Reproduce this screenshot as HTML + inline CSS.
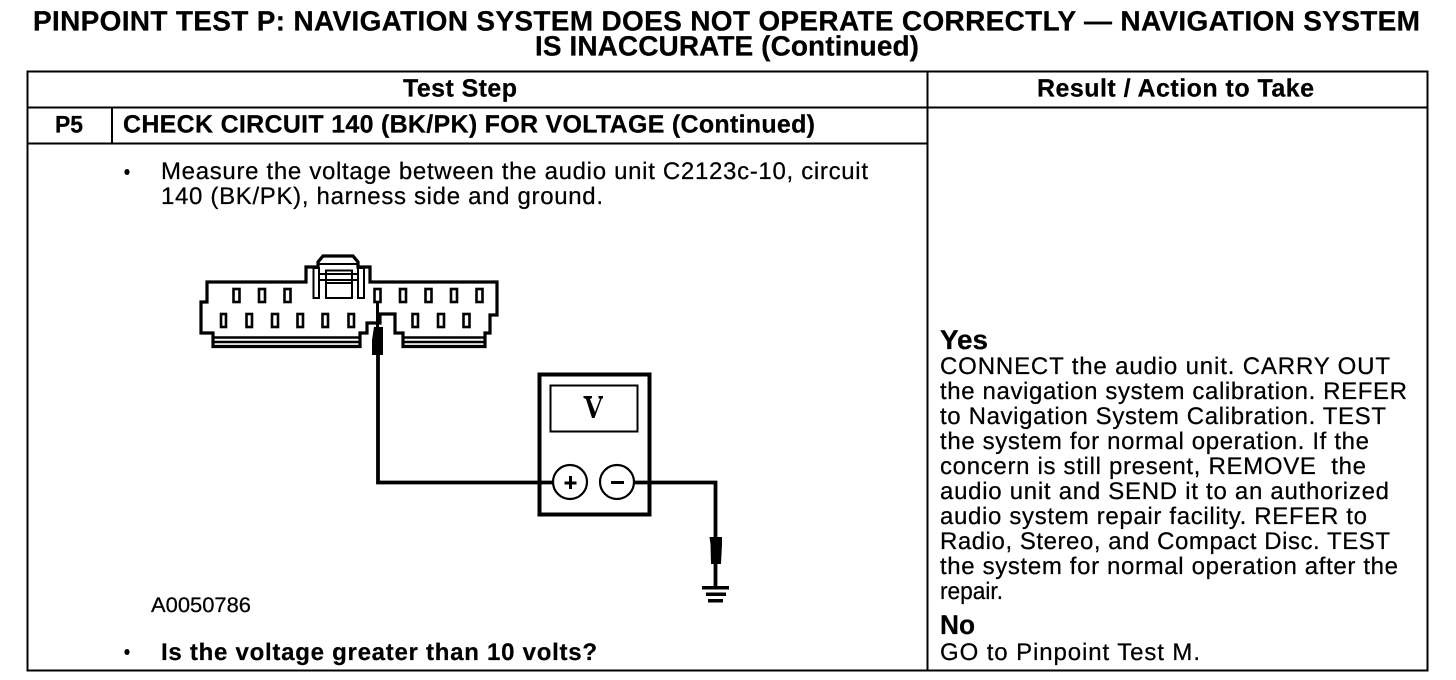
<!DOCTYPE html>
<html><head><meta charset="utf-8"><style>
html,body{margin:0;padding:0;background:#fff;width:1456px;height:680px;overflow:hidden}
svg{display:block}
text{font-family:"Liberation Sans",Arial,sans-serif;fill:#000;white-space:pre;stroke:#000;stroke-width:.25px}
.t{font-size:28px;font-weight:bold}
.h{font-size:25px;font-weight:bold}
.n{font-size:24px}
</style></head><body>
<svg width="1456" height="680" viewBox="0 0 1456 680" xmlns="http://www.w3.org/2000/svg">
<g text-rendering="geometricPrecision">
<text class="t" x="33" y="30.500" textLength="1387" lengthAdjust="spacing">PINPOINT TEST P: NAVIGATION SYSTEM DOES NOT OPERATE CORRECTLY — NAVIGATION SYSTEM</text>
<text class="t" x="535" y="55.500" textLength="384" lengthAdjust="spacing">IS INACCURATE (Continued)</text>
<text class="h" x="403" y="96.500" textLength="114" lengthAdjust="spacing">Test Step</text>
<text class="h" x="1037" y="96.500" textLength="277" lengthAdjust="spacing">Result / Action to Take</text>
<text class="h" x="55" y="132.500" textLength="28" lengthAdjust="spacingAndGlyphs" style="font-size:24px">P5</text>
<text class="h" x="123" y="132.500" textLength="692" lengthAdjust="spacing">CHECK CIRCUIT 140 (BK/PK) FOR VOLTAGE (Continued)</text>
<text class="n" x="161" y="179" textLength="707" lengthAdjust="spacing">Measure the voltage between the audio unit C2123c-10, circuit</text>
<text class="n" x="161" y="204" textLength="442" lengthAdjust="spacing">140 (BK/PK), harness side and ground.</text>
<text x="151" y="612" font-size="21" textLength="100" lengthAdjust="spacingAndGlyphs">A0050786</text>
<text class="h" x="161" y="660" textLength="436" lengthAdjust="spacing" style="font-size:24px">Is the voltage greater than 10 volts?</text>
<text class="h" x="940" y="349" textLength="48" lengthAdjust="spacingAndGlyphs" style="font-size:27px">Yes</text>
<text class="n" x="940" y="374" textLength="450" lengthAdjust="spacing">CONNECT the audio unit. CARRY OUT</text>
<text class="n" x="940" y="399" textLength="467" lengthAdjust="spacing">the navigation system calibration. REFER</text>
<text class="n" x="940" y="424" textLength="446" lengthAdjust="spacing">to Navigation System Calibration. TEST</text>
<text class="n" x="940" y="449" textLength="429" lengthAdjust="spacing">the system for normal operation. If the</text>
<text class="n" x="940" y="474" textLength="426" lengthAdjust="spacing">concern is still present, REMOVE  the</text>
<text class="n" x="940" y="499" textLength="449" lengthAdjust="spacing">audio unit and SEND it to an authorized</text>
<text class="n" x="940" y="524" textLength="427" lengthAdjust="spacing">audio system repair facility. REFER to</text>
<text class="n" x="940" y="549" textLength="450" lengthAdjust="spacing">Radio, Stereo, and Compact Disc. TEST</text>
<text class="n" x="940" y="574" textLength="458" lengthAdjust="spacing">the system for normal operation after the</text>
<text class="n" x="940" y="599" textLength="63" lengthAdjust="spacingAndGlyphs">repair.</text>
<text class="h" x="940" y="634" textLength="35" lengthAdjust="spacingAndGlyphs" style="font-size:27px">No</text>
<text class="n" x="940" y="660" textLength="260" lengthAdjust="spacing">GO to Pinpoint Test M.</text>
</g>
<ellipse cx="127" cy="172" rx="2.600" ry="3" fill="#000"/>
<ellipse cx="127" cy="652" rx="2.600" ry="3" fill="#000"/>

<!-- table -->
<g fill="none" stroke="#000" stroke-width="2.200" shape-rendering="crispEdges">
<rect x="27.500" y="71.500" width="1400" height="599"/>
<path d="M27 107.500H1428M27 143.500H928M927.500 71V671M112 107V144"/>
</g>

<!-- connector -->
<g fill="none" stroke="#000" stroke-linejoin="miter">
<path stroke-width="3.200" d="M207 282V302H201V333H213V346.500H360V333H367V323H380V314H395V333H403V346.500H485V333H490V315H497V282H370V267H358V262L353 256H323L318 262V267H306V282Z"/>
<path stroke-width="2.400" d="M213 337.500H360M213 342H360M403 337.500H485M403 342H485"/>
<g stroke-width="2">
<rect x="313.500" y="268" width="5.500" height="30"/>
<rect x="358" y="268" width="6" height="30"/>
<rect x="326" y="270.500" width="26" height="27.500"/>
<path d="M319 264H358M319 274H358M319 280H358M326 283H352"/>
</g>
<g stroke-width="2.600">
<rect x="233.500" y="289" width="6" height="13"/><rect x="259" y="289" width="6" height="13"/><rect x="284.500" y="289" width="6" height="13"/>
<rect x="374.500" y="289" width="6" height="13"/><rect x="400" y="289" width="6" height="13"/><rect x="425.500" y="289" width="6" height="13"/><rect x="451" y="289" width="6" height="13"/><rect x="476.500" y="289" width="6" height="13"/>
<rect x="221" y="314" width="5" height="13"/><rect x="246.500" y="314" width="5.500" height="13"/><rect x="272" y="314" width="6" height="13"/><rect x="297.500" y="314" width="5.500" height="13"/><rect x="322.500" y="314" width="5.500" height="13"/><rect x="348.500" y="314" width="5.500" height="13"/>
<rect x="412.500" y="314" width="5.500" height="13"/><rect x="438" y="314" width="6" height="13"/><rect x="463.500" y="314" width="6" height="13"/>
</g>
<path stroke-width="3" d="M377.500 302V328"/>
<path stroke-width="3.800" d="M378 355V482.500H553"/>
<path stroke-width="3.800" d="M635 482.500H715.500V587"/>
</g>
<path d="M374 327H383L383 355H372L372 340Z" fill="#000"/>

<!-- meter -->
<rect x="539.500" y="374.500" width="110" height="140" fill="none" stroke="#000" stroke-width="4"/>
<rect x="550.500" y="385.500" width="87" height="46" fill="none" stroke="#000" stroke-width="2"/>
<path d="M583.500 396H592V398L590 399L595 412L600 399L598.500 398V396H603V398L601.500 399L594.500 418H592L586 399L583.500 398Z" fill="#000"/>
<circle cx="570" cy="482" r="17" fill="#fff" stroke="#000" stroke-width="2.200"/>
<circle cx="617" cy="482" r="17" fill="#fff" stroke="#000" stroke-width="2.200"/>
<path d="M564.500 483H576.500M570.500 476V489M611 482.500H624" fill="none" stroke="#000" stroke-width="3"/>

<!-- plug and ground -->
<path d="M709.500 537H722V544L721 564H711L710.500 544Z" fill="#000"/>
<rect x="702" y="586" width="27" height="3.500" fill="#000"/>
<rect x="706" y="592.500" width="20" height="3.500" fill="#000"/>
<rect x="708" y="599" width="15" height="3.500" fill="#000"/>
</svg>
</body></html>
